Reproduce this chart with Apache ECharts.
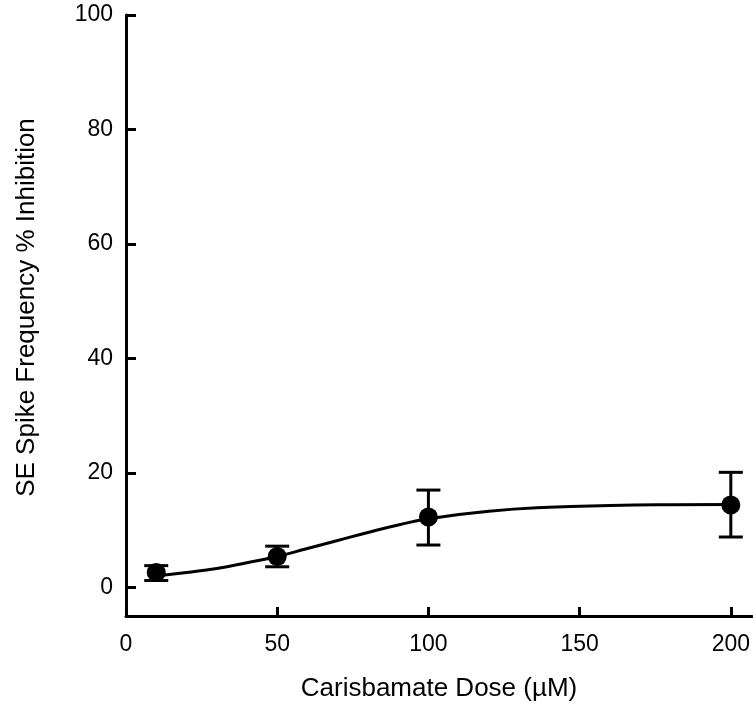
<!DOCTYPE html>
<html>
<head>
    <meta charset="utf-8">
    <title>Carisbamate dose response</title>
    <script src="https://cdn.jsdelivr.net/npm/echarts@6/dist/echarts.min.js"></script>
    <style>
        html, body { margin: 0; padding: 0; background: #fff; }
        #main { width: 753px; height: 709px; }
    </style>
</head>
<body>
<div id="main"></div>
<script type="text/javascript">
    // measured doses and mean inhibition (%)
    var doses = [10, 50, 100, 200];
    var means = [2.6, 5.4, 12.3, 14.4];
    var errLow = [1.2, 3.6, 7.4, 8.8];
    var errHigh = [3.8, 7.2, 17.0, 20.1];

    // fitted curve
    var fitX = [10, 20, 30, 40, 50, 60, 70, 80, 90, 100, 120, 140, 160, 180, 200];
    var fitY = [2.0, 2.6, 3.3, 4.3, 5.4, 6.8, 8.2, 9.6, 10.9, 12.0, 13.3, 14.0, 14.3, 14.45, 14.5];

    var xTicks = [0, 50, 100, 150, 200];
    var yTicks = [0, 20, 40, 60, 80, 100];

    var fontFam = '"Liberation Sans", Arial, sans-serif';

    var pts = [], fit = [], bars = [];
    for (var i = 0; i < doses.length; i++) {
        pts.push([doses[i], means[i]]);
        bars.push([doses[i], errLow[i], errHigh[i]]);
    }
    for (var j = 0; j < fitX.length; j++) {
        fit.push([fitX[j], fitY[j]]);
    }

    var myChart = echarts.init(document.getElementById('main'));

    var option = {
        animation: false,
        backgroundColor: '#fff',
        grid: { left: 126, right: 0, top: 15, bottom: 93 },
        xAxis: {
            type: 'value',
            min: 0,
            max: 207,
            name: 'Carisbamate Dose (\u00b5M)',
            nameLocation: 'middle',
            nameGap: 60,
            nameTextStyle: { fontFamily: fontFam, fontSize: 26, color: '#000' },
            splitLine: { show: false },
            axisLine: { onZero: false, lineStyle: { color: '#000', width: 3 } },
            axisTick: { inside: true, length: 9, lineStyle: { color: '#000', width: 3 },
                customValues: [50, 100, 150, 200] },
            axisLabel: { margin: 17, fontFamily: fontFam, fontSize: 23, color: '#000',
                customValues: xTicks }
        },
        yAxis: {
            type: 'value',
            min: -5,
            max: 100,
            name: 'SE Spike Frequency % Inhibition',
            nameLocation: 'middle',
            nameGap: 86,
            nameTextStyle: { fontFamily: fontFam, fontSize: 26, color: '#000',
                padding: [0, 0, 0, 16] },
            splitLine: { show: false },
            axisLine: { onZero: false, lineStyle: { color: '#000', width: 3 } },
            axisTick: { inside: true, length: 10, lineStyle: { color: '#000', width: 3 },
                customValues: yTicks },
            axisLabel: { margin: 13, fontFamily: fontFam, fontSize: 23, color: '#000',
                customValues: yTicks }
        },
        series: [
            {
                name: 'fit',
                type: 'line',
                data: fit,
                smooth: true,
                showSymbol: false,
                lineStyle: { color: '#000', width: 3 },
                z: 2
            },
            {
                name: 'error',
                type: 'custom',
                data: bars,
                renderItem: function (params, api) {
                    var lo = api.coord([api.value(0), api.value(1)]);
                    var hi = api.coord([api.value(0), api.value(2)]);
                    var w = 12;
                    var st = { stroke: '#000', lineWidth: 3 };
                    return {
                        type: 'group',
                        children: [
                            { type: 'line', shape: { x1: lo[0], y1: lo[1], x2: hi[0], y2: hi[1] }, style: st },
                            { type: 'line', shape: { x1: lo[0] - w, y1: lo[1], x2: lo[0] + w, y2: lo[1] }, style: st },
                            { type: 'line', shape: { x1: hi[0] - w, y1: hi[1], x2: hi[0] + w, y2: hi[1] }, style: st }
                        ]
                    };
                },
                z: 3
            },
            {
                name: 'mean',
                type: 'scatter',
                data: pts,
                symbol: 'circle',
                symbolSize: 19,
                itemStyle: { color: '#000', opacity: 1 },
                z: 4
            }
        ]
    };

    myChart.setOption(option);
</script>
</body>
</html>
